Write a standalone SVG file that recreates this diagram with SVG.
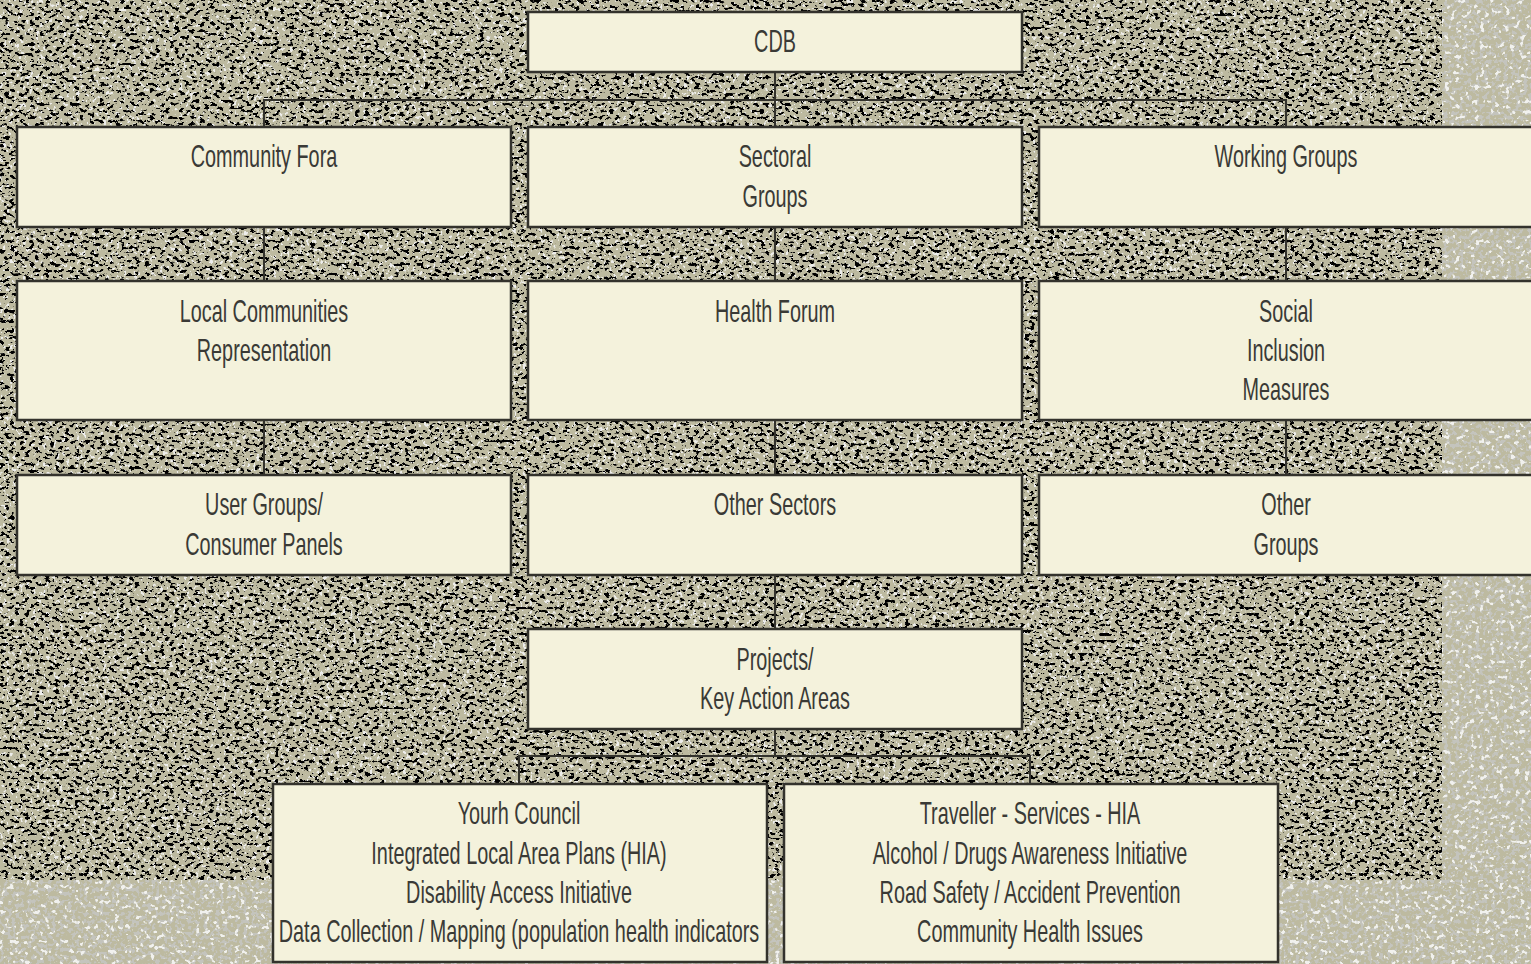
<svg xmlns="http://www.w3.org/2000/svg" width="1531" height="964" viewBox="0 0 1531 964">
  <defs>
    <filter id="darkSpeck" filterUnits="userSpaceOnUse" x="0" y="0" width="1442" height="880">
      <feTurbulence type="fractalNoise" baseFrequency="0.2 0.3" numOctaves="3" seed="7" result="n"/>
      <feColorMatrix in="n" type="matrix" values="0 0 0 0 0  0 0 0 0 0  0 0 0 0 0  -1 0 0 0 1"/>
      <feComponentTransfer>
        <feFuncA type="linear" slope="16" intercept="-9.0"/>
      </feComponentTransfer>
    </filter>
    <filter id="lightSpeck" filterUnits="userSpaceOnUse" x="0" y="0" width="1442" height="880">
      <feTurbulence type="fractalNoise" baseFrequency="0.3 0.25" numOctaves="2" seed="21" result="n"/>
      <feColorMatrix in="n" type="matrix" values="0 0 0 0 0.86  0 0 0 0 0.86  0 0 0 0 0.84  1 0 0 0 0"/>
      <feComponentTransfer>
        <feFuncA type="linear" slope="14" intercept="-8.4"/>
      </feComponentTransfer>
    </filter>
    <filter id="greySpeck" filterUnits="userSpaceOnUse" x="0" y="0" width="1531" height="964">
      <feTurbulence type="fractalNoise" baseFrequency="0.25 0.25" numOctaves="2" seed="11" result="n"/>
      <feColorMatrix in="n" type="matrix" values="0 0 0 0 0.55  0 0 0 0 0.55  0 0 0 0 0.51  -1 0 0 0 1"/>
      <feComponentTransfer>
        <feFuncA type="linear" slope="12" intercept="-6.0"/>
      </feComponentTransfer>
    </filter>
    <filter id="whiteSpeck" filterUnits="userSpaceOnUse" x="0" y="0" width="1531" height="964">
      <feTurbulence type="fractalNoise" baseFrequency="0.2 0.2" numOctaves="2" seed="5" result="n"/>
      <feColorMatrix in="n" type="matrix" values="0 0 0 0 0.88  0 0 0 0 0.88  0 0 0 0 0.86  1 0 0 0 0"/>
      <feComponentTransfer>
        <feFuncA type="linear" slope="12" intercept="-7.4"/>
      </feComponentTransfer>
    </filter>
    <clipPath id="outer">
      <path d="M1442 0H1531V964H0V880H1442Z"/>
    </clipPath>
  </defs>
  <style>
    .box { fill: #f4f2dc; stroke: #33322c; stroke-width: 2.5; }
    .conn { fill: none; stroke: #33322c; stroke-width: 2; }
    .lbl { font-family: "Liberation Sans", Arial, sans-serif; font-size: 30.5px; fill: #3a3a36; text-anchor: middle; }
  </style>

  <g id="background">
    <rect x="0" y="0" width="1531" height="964" fill="#bdbaa0"/>
    <g clip-path="url(#outer)">
      <rect x="0" y="0" width="1531" height="964" filter="url(#greySpeck)"/>
      <rect x="0" y="0" width="1531" height="964" filter="url(#whiteSpeck)"/>
    </g>
    <rect x="0" y="0" width="1442" height="880" filter="url(#lightSpeck)"/>
    <rect x="0" y="0" width="1442" height="880" filter="url(#darkSpeck)"/>
  </g>

  <g id="connectors">
    <path class="conn" d="M775 72V127"/>
    <path class="conn" d="M264 127V100H1286V127"/>
    <path class="conn" d="M264 227V281M775 227V281M1286 227V281"/>
    <path class="conn" d="M264 420V475M775 420V475M1286 420V475"/>
    <path class="conn" d="M775 575V629"/>
    <path class="conn" d="M775 729V756"/>
    <path class="conn" d="M519 784V756H1030V784"/>
  </g>

  <g id="node-cdb">
    <rect class="box" x="528" y="12" width="494" height="60"/>
    <g transform="translate(775 52) scale(0.65 1)"><text class="lbl" x="0" y="0">CDB</text></g>
  </g>

  <g id="node-community-fora">
    <rect class="box" x="17" y="127" width="494" height="100"/>
    <g transform="translate(264 167) scale(0.65 1)"><text class="lbl" x="0" y="0">Community Fora</text></g>
  </g>
  <g id="node-sectoral-groups">
    <rect class="box" x="528" y="127" width="494" height="100"/>
    <g transform="translate(775 167) scale(0.65 1)"><text class="lbl" x="0" y="0"><tspan x="0" y="0">Sectoral</tspan><tspan x="0" y="40">Groups</tspan></text></g>
  </g>
  <g id="node-working-groups">
    <rect class="box" x="1039" y="127" width="494" height="100"/>
    <g transform="translate(1286 167) scale(0.65 1)"><text class="lbl" x="0" y="0">Working Groups</text></g>
  </g>

  <g id="node-local-communities">
    <rect class="box" x="17" y="281" width="494" height="139"/>
    <g transform="translate(264 322) scale(0.65 1)"><text class="lbl" x="0" y="0"><tspan x="0" y="0">Local Communities</tspan><tspan x="0" y="39">Representation</tspan></text></g>
  </g>
  <g id="node-health-forum">
    <rect class="box" x="528" y="281" width="494" height="139"/>
    <g transform="translate(775 322) scale(0.65 1)"><text class="lbl" x="0" y="0">Health Forum</text></g>
  </g>
  <g id="node-social-inclusion">
    <rect class="box" x="1039" y="281" width="494" height="139"/>
    <g transform="translate(1286 322) scale(0.65 1)"><text class="lbl" x="0" y="0"><tspan x="0" y="0">Social</tspan><tspan x="0" y="39">Inclusion</tspan><tspan x="0" y="78">Measures</tspan></text></g>
  </g>

  <g id="node-user-groups">
    <rect class="box" x="17" y="475" width="494" height="100"/>
    <g transform="translate(264 515) scale(0.65 1)"><text class="lbl" x="0" y="0"><tspan x="0" y="0">User Groups/</tspan><tspan x="0" y="40">Consumer Panels</tspan></text></g>
  </g>
  <g id="node-other-sectors">
    <rect class="box" x="528" y="475" width="494" height="100"/>
    <g transform="translate(775 515) scale(0.65 1)"><text class="lbl" x="0" y="0">Other Sectors</text></g>
  </g>
  <g id="node-other-groups">
    <rect class="box" x="1039" y="475" width="494" height="100"/>
    <g transform="translate(1286 515) scale(0.65 1)"><text class="lbl" x="0" y="0"><tspan x="0" y="0">Other</tspan><tspan x="0" y="40">Groups</tspan></text></g>
  </g>

  <g id="node-projects">
    <rect class="box" x="528" y="629" width="494" height="100"/>
    <g transform="translate(775 670) scale(0.65 1)"><text class="lbl" x="0" y="0"><tspan x="0" y="0">Projects/</tspan><tspan x="0" y="39">Key Action Areas</tspan></text></g>
  </g>

  <g id="node-youth-council">
    <rect class="box" x="273" y="784" width="494" height="178"/>
    <g transform="translate(519 824) scale(0.65 1)"><text class="lbl" x="0" y="0"><tspan x="0" y="0">Yourh Council</tspan><tspan x="0" y="40">Integrated Local Area Plans (HIA)</tspan><tspan x="0" y="79">Disability Access Initiative</tspan><tspan x="0" y="118">Data Collection / Mapping (population health indicators</tspan></text></g>
  </g>
  <g id="node-traveller">
    <rect class="box" x="784" y="784" width="494" height="178"/>
    <g transform="translate(1030 824) scale(0.65 1)"><text class="lbl" x="0" y="0"><tspan x="0" y="0">Traveller - Services - HIA</tspan><tspan x="0" y="40">Alcohol / Drugs Awareness Initiative</tspan><tspan x="0" y="79">Road Safety / Accident Prevention</tspan><tspan x="0" y="118">Community Health Issues</tspan></text></g>
  </g>
</svg>
